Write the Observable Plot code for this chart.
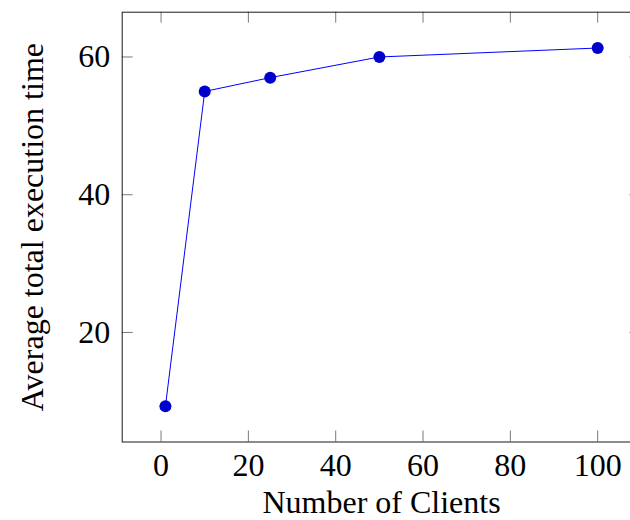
<!DOCTYPE html>
<html>
<head>
<meta charset="utf-8">
<script src="https://cdn.jsdelivr.net/npm/d3@7"></script>
<script src="https://cdn.jsdelivr.net/npm/@observablehq/plot@0.6"></script>
<style>
  html, body { margin: 0; padding: 0; background: #fff; }
  #chart { width: 630px; height: 520px; overflow: hidden; }
</style>
</head>
<body>
<div id="chart"></div>
<script>
const clients = [1, 10, 25, 50, 100];
const times = [9.3, 55, 57, 60, 61.3];
const xTicks = [0, 20, 40, 60, 80, 100];
const yTicks = [20, 40, 60];
const xLabel = "Number of Clients";
const yLabel = "Average total execution time";

const data = clients.map((c, i) => ({clients: c, time: times[i]}));

const W = 630, H = 520;
const mL = 121.7, mR = -10.4, mT = 11.7, mB = 78.5;
const fw = W - mL - mR, fh = H - mT - mB;
const tick = 11;
const fs = 32;
const font = "'Liberation Serif', 'Times New Roman', serif";

const chart = Plot.plot({
  width: W, height: H,
  marginLeft: mL, marginRight: mR, marginTop: mT, marginBottom: mB,
  x: {domain: [-8.9, 109.9]},
  y: {domain: [4.1, 66.5]},
  style: {fontFamily: font, fontSize: fs + "px", background: "#fff", color: "#000", overflow: "hidden"},
  marks: [
    Plot.tickX(xTicks, {x: d => d, stroke: "#7a7a7a", insetTop: fh - tick}),
    Plot.tickX(xTicks, {x: d => d, stroke: "#7a7a7a", insetBottom: fh - tick}),
    Plot.tickY(yTicks, {y: d => d, stroke: "#7a7a7a", insetRight: fw - tick}),
    Plot.tickY(yTicks, {y: d => d, stroke: "#7a7a7a", insetLeft: fw - tick}),
    Plot.frame({stroke: "#1a1a1a", strokeWidth: 1}),
    Plot.axisX(xTicks, {tickSize: 0, tickPadding: 11, fontSize: fs, label: null, fill: "#000"}),
    Plot.axisY(yTicks, {tickSize: 0, tickPadding: 12, fontSize: fs, label: null, fill: "#000"}),
    Plot.text([xLabel], {text: d => d, frameAnchor: "bottom", lineAnchor: "middle", textAnchor: "middle", dy: 61, fontSize: fs, fill: "#000"}),
    Plot.text([yLabel], {text: d => d, frameAnchor: "left", lineAnchor: "middle", textAnchor: "middle", rotate: -90, dx: -89, fontSize: fs, fill: "#000"}),
    Plot.line(data, {x: "clients", y: "time", stroke: "#0000ff", strokeWidth: 1}),
    Plot.dot(data, {x: "clients", y: "time", r: 6, fill: "#0000cc", stroke: "none"})
  ]
});
document.getElementById("chart").appendChild(chart);
</script>
</body>
</html>
